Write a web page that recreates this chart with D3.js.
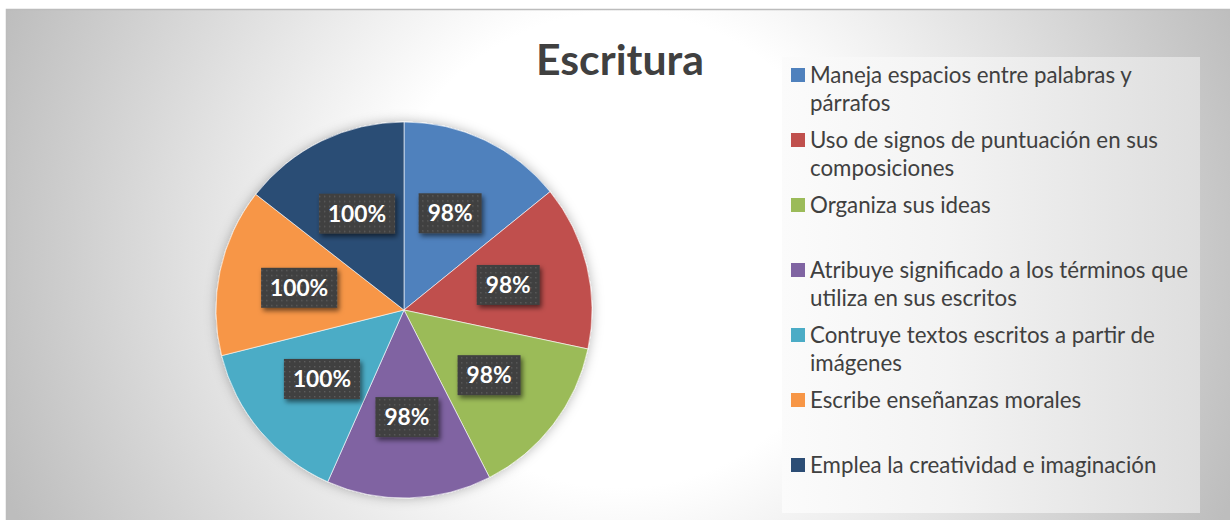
<!DOCTYPE html>
<html>
<head>
<meta charset="utf-8">
<script src="https://cdn.jsdelivr.net/npm/d3@7"></script>
<style>
  body { margin: 0; background: #ffffff; }
  svg { display: block; }
</style>
</head>
<body>
<div id="chart"></div>
<script>
// categories and values
var categories = [
    "Maneja espacios entre palabras y párrafos",
    "Uso de signos de puntuación en sus composiciones",
    "Organiza sus ideas",
    "Atribuye significado a los términos que utiliza en sus escritos",
    "Contruye textos escritos a partir de imágenes",
    "Escribe enseñanzas morales",
    "Emplea la creatividad e imaginación"
];
var values = [98, 98, 98, 98, 100, 100, 100];
var colors = ["#4f81bd", "#c0504d", "#9bbb59", "#8064a2", "#4bacc6", "#f79646", "#2c4d75"];
var title = "Escritura";

var width = 1230, height = 520;
var font = "Lato, 'Open Sans', sans-serif";

var svg = d3.select("#chart").append("svg")
    .attr("width", width)
    .attr("height", height);

var defs = svg.append("defs");

// chart area background
var bg = defs.append("radialGradient").attr("id", "bg")
    .attr("gradientUnits", "userSpaceOnUse")
    .attr("cx", 620).attr("cy", 250).attr("r", 660);
bg.append("stop").attr("offset", 0).attr("stop-color", "#ffffff");
bg.append("stop").attr("offset", 0.36).attr("stop-color", "#ffffff");
bg.append("stop").attr("offset", 1).attr("stop-color", "#bdbdbd");

var lg = defs.append("linearGradient").attr("id", "legbg")
    .attr("x1", 0).attr("y1", 0).attr("x2", 1).attr("y2", 0);
lg.append("stop").attr("offset", 0).attr("stop-color", "#fbfbfb");
lg.append("stop").attr("offset", 0.4).attr("stop-color", "#f3f3f3");
lg.append("stop").attr("offset", 1).attr("stop-color", "#dedede");

var glow = defs.append("filter").attr("id", "glow")
    .attr("x", "-20%").attr("y", "-20%").attr("width", "140%").attr("height", "140%");
glow.append("feDropShadow").attr("dx", 0).attr("dy", 0)
    .attr("stdDeviation", 6).attr("flood-color", "#000").attr("flood-opacity", 0.28);

var shadow = defs.append("filter").attr("id", "lblshadow")
    .attr("x", "-30%").attr("y", "-30%").attr("width", "160%").attr("height", "160%");
shadow.append("feDropShadow").attr("dx", 2).attr("dy", 3)
    .attr("stdDeviation", 2.5).attr("flood-color", "#000").attr("flood-opacity", 0.55);

var dots = defs.append("pattern").attr("id", "dots")
    .attr("patternUnits", "userSpaceOnUse")
    .attr("width", 5).attr("height", 5);
dots.append("rect").attr("width", 5).attr("height", 5).attr("fill", "#404040");
dots.append("rect").attr("x", 2).attr("y", 2).attr("width", 1.4).attr("height", 1.4).attr("fill", "#5c5c5c");

// chart area
svg.append("rect")
    .attr("x", 6.5).attr("y", 9.5)
    .attr("width", width + 20).attr("height", height + 20)
    .attr("fill", "url(#bg)")
    .attr("stroke", "#bcbcbc")
    .attr("stroke-width", 1.5);

// title
var titleText = svg.append("text")
    .attr("x", 620).attr("y", 75)
    .attr("text-anchor", "middle")
    .attr("font-family", font)
    .attr("font-weight", "bold")
    .attr("font-size", 40)
    .attr("fill", "#404040")
    .text(title);
// fit title to width seen in the picture
var tw = titleText.node().getComputedTextLength();
titleText.attr("font-size", 40 * 168 / tw);

// pie
var cx = 404, cy = 310, radius = 188;
var pie = d3.pie().sort(null).value(function(d) { return d; });
var arcs = pie(values);
var arc = d3.arc().innerRadius(0).outerRadius(radius);
var labelArc = d3.arc().innerRadius(radius * 0.57).outerRadius(radius * 0.57);

var g = svg.append("g").attr("transform", "translate(" + cx + "," + cy + ")");

g.append("g").attr("filter", "url(#glow)")
    .selectAll("path")
    .data(arcs)
    .enter()
    .append("path")
    .attr("d", arc)
    .attr("fill", function(d, i) { return colors[i]; })
    .attr("stroke", "#ffffff")
    .attr("stroke-width", 0.6);

// data label size: "98%" is ~45px wide in the picture
var lp = svg.append("text").attr("font-family", font).attr("font-weight", "bold")
    .attr("font-size", 22).text("98%");
var lblFont = 22 * 45 / lp.node().getComputedTextLength();
lp.remove();

var lbl = g.selectAll(".lbl")
    .data(arcs)
    .enter()
    .append("g")
    .attr("class", "lbl")
    .attr("transform", function(d) { return "translate(" + labelArc.centroid(d) + ")"; });

lbl.append("text")
    .attr("text-anchor", "middle")
    .attr("dy", "0.36em")
    .attr("font-family", font)
    .attr("font-weight", "bold")
    .attr("font-size", lblFont)
    .attr("fill", "#ffffff")
    .text(function(d) { return d.value + "%"; });

lbl.each(function() {
    var gg = d3.select(this);
    var t = gg.select("text");
    var w = t.node().getComputedTextLength();
    gg.insert("rect", "text")
        .attr("x", -w / 2 - 9)
        .attr("y", -20)
        .attr("width", w + 18)
        .attr("height", 40)
        .attr("fill", "url(#dots)")
        .attr("filter", "url(#lblshadow)");
});

// legend
var legX = 782, legY = 57, legW = 418, legH = 456;
svg.append("rect")
    .attr("x", legX).attr("y", legY)
    .attr("width", legW).attr("height", legH)
    .attr("fill", "url(#legbg)");

var legFont = 20;
// match text size to the picture: widest line is ~378px
var probe = svg.append("text").attr("font-family", font).attr("font-size", 20)
    .text("Atribuye significado a los términos que");
legFont = 20 * 378 / probe.node().getComputedTextLength();
probe.remove();

var maxLine = 386;
var slot = 65;
var lineH = 28;

var legend = svg.append("g");
categories.forEach(function(name, i) {
    var y0 = 75 + i * slot;
    var item = legend.append("g");
    item.append("rect")
        .attr("x", 791).attr("y", y0 - 7)
        .attr("width", 14).attr("height", 14)
        .attr("fill", colors[i]);

    var txt = item.append("text")
        .attr("font-family", font)
        .attr("font-size", legFont)
        .attr("fill", "#404040");
    // word wrap
    var words = name.split(" ");
    var lines = [];
    var cur = "";
    var tmp = txt.append("tspan");
    words.forEach(function(w) {
        var test = cur ? cur + " " + w : w;
        tmp.text(test);
        if (tmp.node().getComputedTextLength() > maxLine && cur) {
            lines.push(cur);
            cur = w;
        } else {
            cur = test;
        }
    });
    lines.push(cur);
    tmp.remove();
    lines.forEach(function(l, j) {
        txt.append("tspan")
            .attr("x", 810)
            .attr("y", y0 + j * lineH)
            .attr("dy", "0.35em")
            .text(l);
    });
});
</script>
</body>
</html>
